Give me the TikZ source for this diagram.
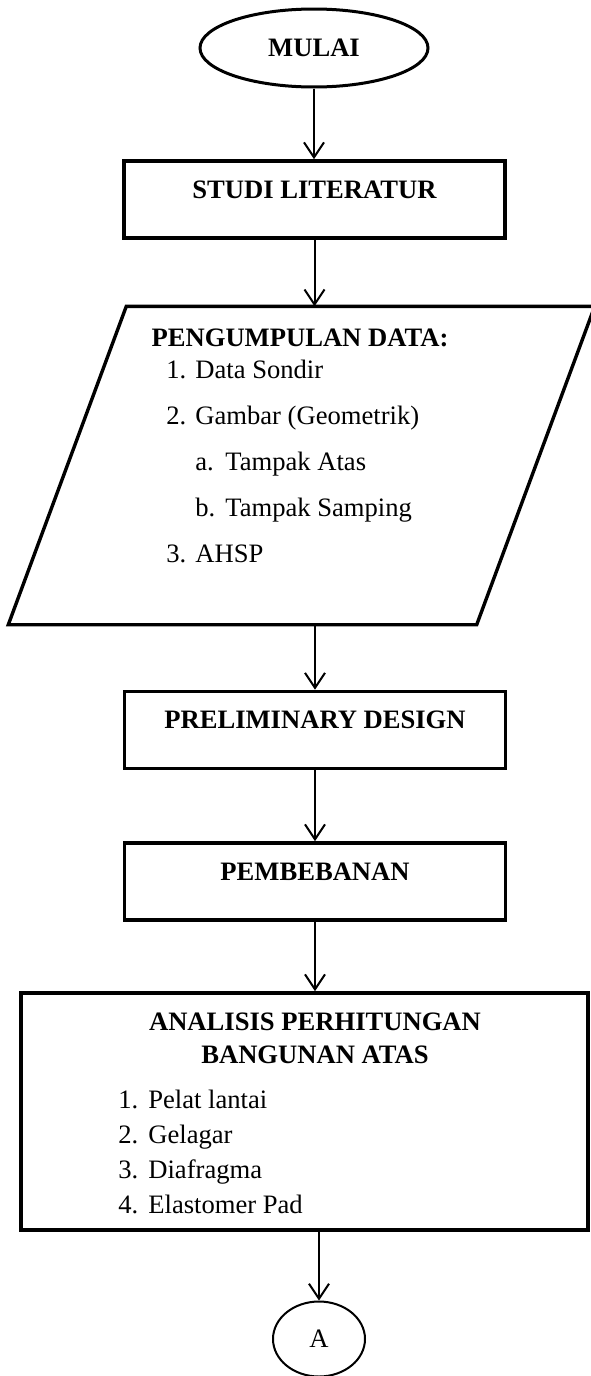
\documentclass[tikz,border=0pt]{standalone}
\usepackage{fontspec}
\setmainfont{Liberation Serif}
\usetikzlibrary{shapes.geometric, arrows.meta}

\newcommand{\nomor}[2]{\makebox[14.5pt][l]{#1}#2}
\newcommand{\subnomor}[2]{\hspace*{14.5pt}\makebox[15pt][l]{#1}#2}

\begin{document}
\begin{tikzpicture}[
	x=0.5pt, y=-0.5pt,
	every node/.style={font=\fontsize{13.3}{23}\selectfont},
	terminal/.style={ellipse, draw, line width=1.5pt, minimum width=114pt, minimum height=39pt, inner sep=0pt},
	box/.style={draw, rectangle, line width=1.8pt, minimum width=190.5pt, minimum height=38.5pt, inner sep=0pt},
	ioframe/.style={rectangle, minimum width=291.5pt, minimum height=157.5pt, inner sep=0pt, outer sep=0.85pt},
	ioline/.style={line width=1.7pt, line join=miter},
	offpage/.style={ellipse, draw, line width=1pt, minimum width=46pt, minimum height=37.5pt, inner sep=0pt},
	title/.style={font=\fontsize{13.3}{16.5}\selectfont\bfseries, align=center, inner sep=0pt},
	list/.style={align=left, inner sep=0pt, anchor=north west},
	]
	
	\useasboundingbox (0,0) rectangle (590,1376);
	
	%-----------------------
	% Customizable heights
	%-----------------------
	\def\hmulai{48}
	\def\hstudi{199.5}
	\def\hdata{465.5}
	\def\hprelim{730}
	\def\hbeban{881.5}
	\def\hanalisis{1111.5}
	\def\hA{1339}
	\def\slant{59pt}
	
	%-----------------------
	% Start
	%-----------------------
	\node[terminal, font=\fontsize{13.3}{16}\selectfont\bfseries] (mulai) at (314,\hmulai) {MULAI};
	
	%-----------------------
	% Literature study
	%-----------------------
	\node[box] (studi) at (314.5,\hstudi) {};
	\node[title] (studi-t) at (314.5,190) {STUDI LITERATUR};
	
	%-----------------------
	% Data collection (input)
	%-----------------------
	\node[ioframe] (data) at (301.5,\hdata) {};
	\draw[ioline] (data.south west) -- ([xshift=-\slant]data.south east)
		-- (data.north east) -- ([xshift=\slant]data.north west) -- cycle;
	\node[title] (data-t) at (300,338) {PENGUMPULAN DATA:};
	\node[list] (data-l) at (166,360) {%
		\nomor{1.}{Data Sondir}\\
		\nomor{2.}{Gambar (Geometrik)}\\
		\subnomor{a.}{Tampak Atas}\\
		\subnomor{b.}{Tampak Samping}\\
		\nomor{3.}{AHSP}};
	
	%-----------------------
	% Design and loads
	%-----------------------
	\node[box] (prelim) at (315,\hprelim) {};
	\node[title] (prelim-t) at (315,720) {PRELIMINARY DESIGN};
	
	\node[box] (beban) at (315,\hbeban) {};
	\node[title] (beban-t) at (315,872) {PEMBEBANAN};
	
	%-----------------------
	% Superstructure analysis
	%-----------------------
	\node[box, minimum width=283.5pt, minimum height=118.5pt] (analisis) at (304.5,\hanalisis) {};
	\node[title] (analisis-t) at (315,1038.5) {ANALISIS PERHITUNGAN\\BANGUNAN ATAS};
	\node[list, font=\fontsize{13.3}{17.5}\selectfont] (analisis-l) at (118,1090) {%
		\makebox[15pt][l]{1.}Pelat lantai\\
		\makebox[15pt][l]{2.}Gelagar\\
		\makebox[15pt][l]{3.}Diafragma\\
		\makebox[15pt][l]{4.}Elastomer Pad};
	
	%-----------------------
	% Connector to next page
	%-----------------------
	\node[offpage] (A) at (319,\hA) {A};
	
	%-----------------------
	% Connections
	%-----------------------
	\tikzset{connect/.style={-{Straight Barb[length=7.5pt,width=10pt]}, line width=1pt}}
	
	\draw[connect] (mulai.south) -- (mulai.south |- studi.north);
	\draw[connect] (studi.south) -- (studi.south |- data.north);
	\draw[connect] (prelim.north |- data.south) -- (prelim.north);
	\draw[connect] (prelim.south) -- (beban.north);
	\draw[connect] (beban.south) -- (beban.south |- analisis.north);
	\draw[connect] (A.north |- analisis.south) -- (A.north);
	
\end{tikzpicture}
\end{document}
